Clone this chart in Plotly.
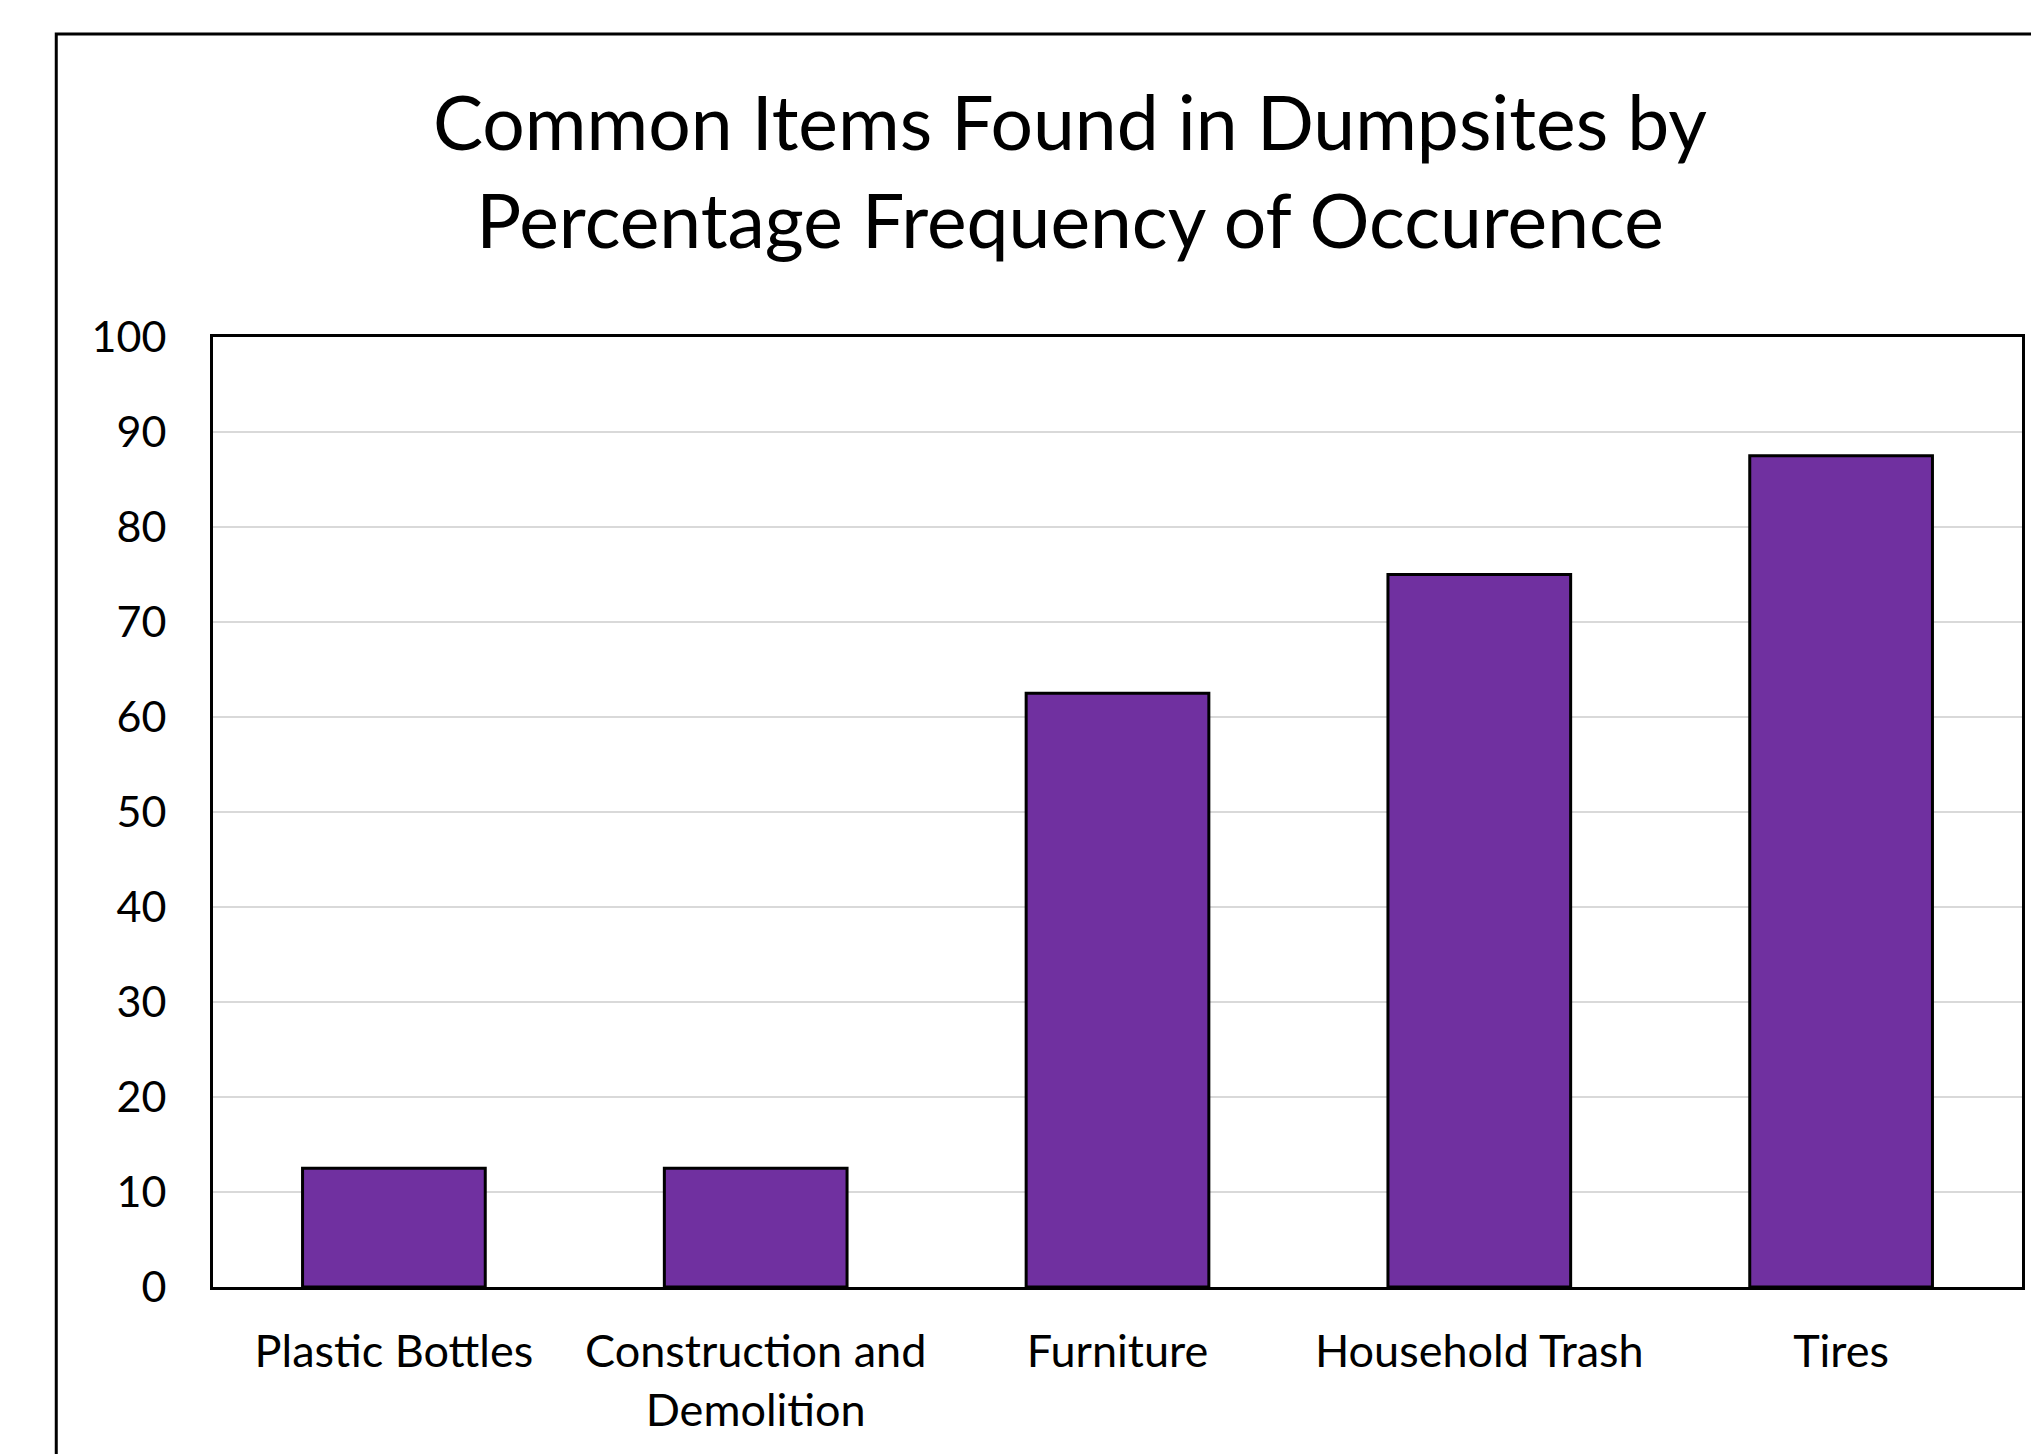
import plotly.graph_objects as go

categories = ["Plastic Bottles", "Construction and<br>Demolition", "Furniture", "Household Trash", "Tires"]
values = [12.5, 12.5, 62.5, 75, 87.5]
y_ticks = [0, 10, 20, 30, 40, 50, 60, 70, 80, 90, 100]

W, H = 2031, 1454
L, R, T, B = 213, 6, 337, 167
pw, ph = W - L - R, H - T - B

fig = go.Figure(go.Bar(
    x=categories, y=values,
    marker=dict(color="#7030A0", line=dict(color="#000000", width=3)),
))

fig.update_layout(
    width=W, height=H,
    margin=dict(l=L, r=R, t=T, b=B, pad=0),
    paper_bgcolor="white", plot_bgcolor="white",
    font=dict(family="Lato, Carlito, sans-serif", color="#000000", size=42),
    bargap=0.495,
    showlegend=False,
    title=dict(
        text="Common Items Found in Dumpsites by<br>Percentage Frequency of Occurence",
        font=dict(size=75, color="#000000"),
        xref="container", x=1070 / W, xanchor="center",
        yref="container", y=1 - 150 / H, yanchor="top",
    ),
    shapes=[dict(
        type="rect", xref="paper", yref="paper",
        x0=(56 - L) / pw, x1=1.2, y0=-0.5, y1=(H - B - 34) / ph,
        line=dict(color="#000000", width=3), fillcolor="rgba(0,0,0,0)", layer="below",
    )],
)

fig.update_xaxes(
    showline=True, linecolor="#000000", linewidth=3, mirror=True,
    showgrid=False, ticks="", ticklabelstandoff=23,
    tickfont=dict(size=45),
)
fig.update_yaxes(
    range=[0, 100], tickvals=y_ticks, ticktext=[str(v) for v in y_ticks],
    showline=True, linecolor="#000000", linewidth=3, mirror=True,
    showgrid=True, gridcolor="#d9d9d9", gridwidth=2,
    zeroline=False, ticks="", ticklabelstandoff=35,
    tickfont=dict(size=43),
)

fig.write_html("out.html")
